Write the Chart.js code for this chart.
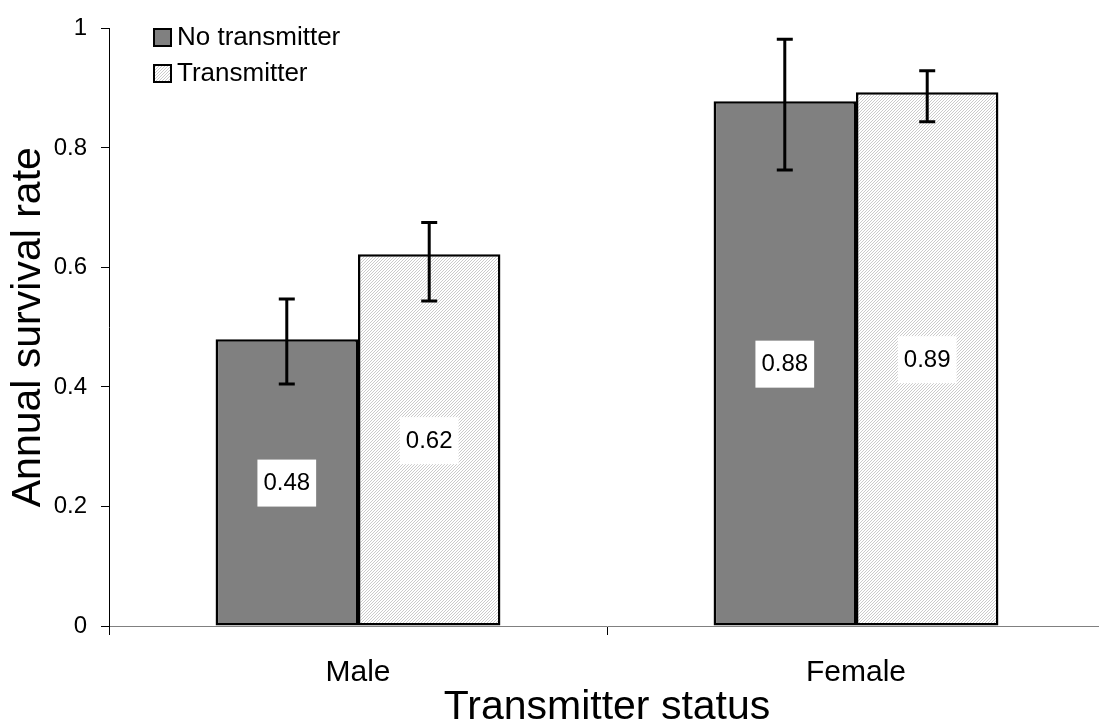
<!DOCTYPE html>
<html>
<head>
<meta charset="utf-8">
<script src="https://cdn.jsdelivr.net/npm/chart.js@4/dist/chart.umd.min.js"></script>
<style>
  html, body { margin: 0; padding: 0; background: #fff; overflow: hidden; }
  #wrap { position: absolute; left: 0; top: 0; width: 1105px; height: 728px; }
</style>
</head>
<body>
<div id="wrap"><canvas id="myChart"></canvas></div>
<script>
var categories   = ['Male', 'Female'];
var series_names = ['No transmitter', 'Transmitter'];
var no_tx_values = [0.48, 0.878];
var no_tx_low    = [0.405, 0.763];
var no_tx_high   = [0.547, 0.982];
var tx_values    = [0.622, 0.893];
var tx_low       = [0.544, 0.844];
var tx_high      = [0.675, 0.929];
var value_labels = [['0.48', '0.88'], ['0.62', '0.89']];
var y_ticks      = [0, 0.2, 0.4, 0.6, 0.8, 1];

// fine light diagonal hatch for the "Transmitter" bars
function makeHatch(){
    var c = document.createElement('canvas');
    c.width = 3; c.height = 3;
    var g = c.getContext('2d');
    g.fillStyle = '#ffffff';
    g.fillRect(0, 0, 3, 3);
    g.fillStyle = '#cbcbcb';
    g.fillRect(2, 0, 1, 1);
    g.fillRect(1, 1, 1, 1);
    g.fillRect(0, 2, 1, 1);
    return g.createPattern(c, 'repeat');
}
var hatch = makeHatch();
var fills = ['#808080', hatch];

var errorBars = {
    id: 'errorBars',
    afterDatasetsDraw: function(chart){
        var ctx = chart.ctx;
        var y = chart.scales.y;
        var lows = [no_tx_low, tx_low];
        var highs = [no_tx_high, tx_high];
        ctx.save();
        // value labels in white boxes
        ctx.font = '24px "Liberation Sans", Arial, sans-serif';
        ctx.textAlign = 'center';
        ctx.textBaseline = 'middle';
        chart.data.datasets.forEach(function(ds, i){
            var meta = chart.getDatasetMeta(i);
            meta.data.forEach(function(bar, j){
                var cy = y.getPixelForValue(ds.data[j] / 2);
                var txt = value_labels[i][j];
                var w = ctx.measureText(txt).width + 12;
                ctx.fillStyle = '#fff';
                ctx.fillRect(bar.x - w / 2, cy - 23, w, 47);
                ctx.fillStyle = '#000';
                ctx.fillText(txt, bar.x, cy + 1);
            });
        });
        // error bars
        ctx.strokeStyle = '#000';
        ctx.lineWidth = 3;
        chart.data.datasets.forEach(function(ds, i){
            var meta = chart.getDatasetMeta(i);
            meta.data.forEach(function(bar, j){
                var yl = y.getPixelForValue(lows[i][j]);
                var yh = y.getPixelForValue(highs[i][j]);
                ctx.beginPath();
                ctx.moveTo(bar.x, yl); ctx.lineTo(bar.x, yh);
                ctx.moveTo(bar.x - 8, yl); ctx.lineTo(bar.x + 8, yl);
                ctx.moveTo(bar.x - 8, yh); ctx.lineTo(bar.x + 8, yh);
                ctx.stroke();
            });
        });
        // legend
        ctx.font = '26px "Liberation Sans", Arial, sans-serif';
        ctx.textAlign = 'left';
        series_names.forEach(function(name, i){
            var cy = 37 + i * 36;
            ctx.fillStyle = fills[i];
            ctx.fillRect(154, cy - 8, 17, 17);
            ctx.lineWidth = 2;
            ctx.strokeRect(154, cy - 8, 17, 17);
            ctx.fillStyle = '#000';
            ctx.fillText(name, 177, cy + 1);
        });
        ctx.restore();
    }
};

var data = {
    labels: categories,
    datasets: [
        {
            label: series_names[0],
            backgroundColor: fills[0],
            borderColor: '#000',
            borderWidth: 2.5,
            borderSkipped: false,
            data: no_tx_values,
        },
        {
            label: series_names[1],
            backgroundColor: fills[1],
            borderColor: '#000',
            borderWidth: 2.5,
            borderSkipped: false,
            data: tx_values,
        },
    ]
};

var config = {
    type: 'bar',
    data,
    options: {
        responsive: true,
        maintainAspectRatio: false,
        animation: false,
        categoryPercentage: 0.572,
        barPercentage: 1,
        layout: { padding: { top: 22, right: 0, left: 0, bottom: 0 } },
        plugins: { legend: { display: false }, tooltip: { enabled: false } },
        scales: {
            x: {
                offset: true,
                grid: { display: true, offset: true, drawOnChartArea: false, tickLength: 9, color: '#000', lineWidth: 1 },
                border: { color: '#808080', width: 1 },
                ticks: { color: '#000', padding: 20, font: { family: '"Liberation Sans", Arial, sans-serif', size: 30 } },
                title: { display: true, text: 'Transmitter status', color: '#000', padding: 0,
                         font: { family: '"Liberation Sans", Arial, sans-serif', size: 41, lineHeight: 1 } },
                afterFit: function(s){ s.height = 102; }
            },
            y: {
                min: 0,
                max: 1,
                afterBuildTicks: function(s){ s.ticks = y_ticks.map(function(v){ return { value: v }; }); },
                grid: { display: true, drawOnChartArea: false, tickLength: 8, color: '#000', lineWidth: 1 },
                border: { color: '#000', width: 1 },
                ticks: { color: '#000', padding: 14, font: { family: '"Liberation Sans", Arial, sans-serif', size: 24 },
                         callback: function(v){ return String(Math.round(v * 10) / 10); } },
                title: { display: true, text: 'Annual survival rate', color: '#000', padding: { top: 8 },
                         font: { family: '"Liberation Sans", Arial, sans-serif', size: 41, lineHeight: 1 } },
                afterFit: function(s){ s.width = 109; }
            }
        }
    },
    plugins: [errorBars]
};

var myChart = new Chart(
    document.getElementById('myChart'),
    config
);
</script>
</body>
</html>
